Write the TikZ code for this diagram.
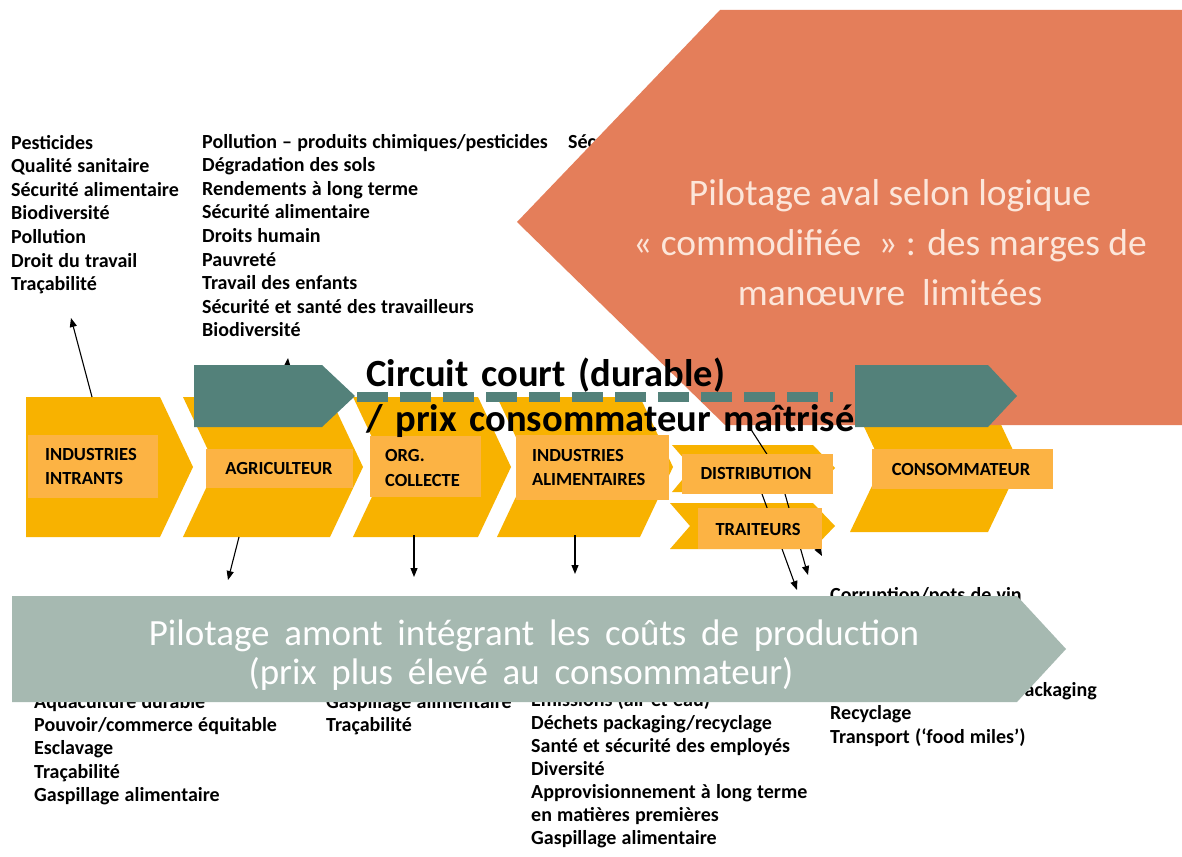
\documentclass[tikz,border=0pt]{standalone}
\usepackage{fontspec}
\setmainfont{Carlito}
\usetikzlibrary{arrows.meta}
\definecolor{orng}{HTML}{E47E5A}
\definecolor{orngtxt}{HTML}{FCE6DA}
\definecolor{tealc}{HTML}{53817A}
\definecolor{chev}{HTML}{F8B200}
\definecolor{lbl}{HTML}{FCB344}
\definecolor{barc}{HTML}{A6B9B1}
\newcommand\setwsp[1]{\spaceskip=#1em plus 0.05em\relax}
\begin{document}
\begin{tikzpicture}[x=1pt,y=-1pt,
  lst/.style={anchor=base west,inner sep=0pt,font=\fontsize{20}{24}\selectfont\bfseries,execute at begin node={\setwsp{0.26}}},
  lab/.style={anchor=base,inner sep=0pt,font=\fontsize{18.5}{22}\selectfont\bfseries},
  labw/.style={anchor=base west,inner sep=0pt,font=\fontsize{18.5}{22}\selectfont\bfseries},
  chevron/.style={fill=chev},
  lbox/.style={fill=lbl},
  arr/.style={line width=1.1pt,-{Triangle[length=9pt,width=7pt]}},
  big/.style={anchor=base west,inner sep=0pt,font=\fontsize{38.5}{40}\selectfont\bfseries,execute at begin node={\setwsp{0.33}}},
  bartext/.style={text=white,font=\fontsize{37}{42}\selectfont,inner sep=0pt,anchor=base,execute at begin node={\setwsp{0.4}}},
]
\useasboundingbox (0,0) rectangle (1182,856);
\fill[white] (0,0) rectangle (1182,856);

% top lists
\foreach \t [count=\i] in {{Pesticides},{Qualité sanitaire},{Sécurité alimentaire},{Biodiversité},{Pollution},{Droit du travail},{Traçabilité}}
  \node[lst] (A\i) at (11,{149+23.6*(\i-1)}) {\t};
\foreach \t [count=\i] in {{Pollution – produits chimiques/pesticides},{Dégradation des sols},{Rendements à long terme},{Sécurité alimentaire},{Droits humain},{Pauvreté},{Travail des enfants},{Sécurité et santé des travailleurs},{Biodiversité}}
  \node[lst] (B\i) at (202,{148+23.6*(\i-1)}) {\t};
\node[lst] (C1) at (568,148) {Sécurité alimentaire};

% chevrons
\fill[chevron] (26,397) -- (160,397) -- (193,467) -- (160,537) -- (26,537) -- cycle;
\fill[chevron] (183,397) -- (330,397) -- (363,467) -- (330,537) -- (183,537) -- (216,467) -- cycle;
\fill[chevron] (353,397) -- (478,397) -- (511,467) -- (478,537) -- (353,537) -- (386,467) -- cycle;
\fill[chevron] (497,397) -- (640,397) -- (673,467) -- (640,537) -- (497,537) -- (530,467) -- cycle;
\fill[chevron] (672,445) -- (813,445) -- (835,468) -- (813,492) -- (672,492) -- (692,468) -- cycle;
\fill[chevron] (670,503) -- (813,503) -- (835,526) -- (813,549) -- (670,549) -- (690,526) -- cycle;
\fill[chevron] (850,397) -- (988,397) -- (1020,465) -- (988,532) -- (850,532) -- (882,465) -- cycle;

% orange pentagon
\fill[orng] (720,10) -- (1182,10) -- (1182,425) -- (725,425) -- (517,222) -- cycle;
\node[align=center,text=orngtxt,font=\fontsize{37.5}{50}\selectfont,inner sep=0pt] (aval) at (890,243)
  {Pilotage aval selon logique\\« commodifiée\ \ » : des marges de\\manœuvre\ \ limitées};

% upward arrows
\coordinate (u1s) at (92,397); \coordinate (u1e) at (71,318);
\draw[arr] (u1s) -- (u1e);
\coordinate (u2s) at (285,390); \coordinate (u2e) at (288,358);
\draw[arr] (u2s) -- (u2e);

% diagonal lines (distribution / traiteurs)
\coordinate (d1s) at (750,428); \coordinate (d1e) at (772,462);
\draw[line width=1.1pt] (d1s) -- (d1e);
\coordinate (d2s) at (762,494); \coordinate (d2e) at (797,590);
\draw[arr] (d2s) -- (d2e);
\coordinate (d3s) at (785,494); \coordinate (d3e) at (808,575);
\draw[arr] (d3s) -- (d3e);
\coordinate (d4s) at (805,525); \coordinate (d4e) at (822,556);
\draw[arr] (d4s) -- (d4e);

% label boxes
\fill[lbox] (28,435) rectangle (158,498);
\node[labw] (l1a) at (45,460) {INDUSTRIES};
\node[labw] (l1b) at (45,484) {INTRANTS};
\fill[lbox] (206,449) rectangle (353,488);
\node[lab] (l2) at (279,474) {AGRICULTEUR};
\fill[lbox] (370,436) rectangle (481,497);
\node[labw] (l3a) at (385,461) {ORG.};
\node[labw] (l3b) at (385,486) {COLLECTE};
\fill[lbox] (516,435) rectangle (669,500);
\node[labw] (l4a) at (532,461) {INDUSTRIES};
\node[labw] (l4b) at (532,485) {ALIMENTAIRES};
\fill[lbox] (682,454) rectangle (833,494);
\node[lab] (l5) at (756,479) {DISTRIBUTION};
\fill[lbox] (698,508) rectangle (822,549);
\node[lab] (l6) at (758,535) {TRAITEURS};
\fill[lbox] (872,449) rectangle (1053,489);
\node[lab] (l7) at (961,475) {CONSOMMATEUR};

% downward arrows
\coordinate (a1s) at (239,537); \coordinate (a1e) at (228,580);
\draw[arr] (a1s) -- (a1e);
\coordinate (a2s) at (414,535); \coordinate (a2e) at (414,577);
\draw[arr] (a2s) -- (a2e);
\coordinate (a3s) at (575,535); \coordinate (a3e) at (575,574);
\draw[arr] (a3s) -- (a3e);

% teal arrows and dashed line
\fill[tealc] (194,365) -- (322,365) -- (355,396) -- (322,427) -- (194,427) -- cycle;
\fill[tealc] (855,365) -- (988,365) -- (1017,396) -- (988,427) -- (855,427) -- cycle;
\coordinate (ds) at (357,397); \coordinate (de) at (833,397);
\draw[tealc,line width=10pt,dash pattern=on 31pt off 12pt] (ds) -- (de);

\node[big] (cc1) at (366,386) {Circuit court (durable)};
\node[big] (cc2) at (366,431) {/ prix consommateur maîtrisé};

% bottom lists
\foreach \t [count=\i] in {{Aquaculture durable},{Pouvoir/commerce équitable},{Esclavage},{Traçabilité},{Gaspillage alimentaire}}
  \node[lst] (D\i) at (34,{708+23.4*(\i-1)}) {\t};
\foreach \t [count=\i] in {{Gaspillage alimentaire},{Traçabilité}}
  \node[lst] (E\i) at (326,{708+23.4*(\i-1)}) {\t};
\foreach \t [count=\i] in {{Emissions (air et eau)},{Déchets packaging/recyclage},{Santé et sécurité des employés},{Diversité},{Approvisionnement à long terme},{en matières premières},{Gaspillage alimentaire}}
  \node[lst] (F\i) at (531,{706+23*(\i-1)}) {\t};
\node[lst] (G1) at (830,601) {Corruption/pots de vin};
\node[lst,anchor=base east] (G2) at (1097,696) {packaging};
\node[lst] (G3) at (830,719) {Recyclage};
\node[lst] (G4) at (830,743) {Transport (‘food miles’)};

% bottom bar
\fill[barc] (12,596) -- (1017,596) -- (1066,649) -- (1017,702) -- (12,702) -- cycle;
\node[bartext] (pb1) at (534,645) {Pilotage amont intégrant les coûts de production};
\node[bartext] (pb2) at (521,684) {(prix plus élevé au consommateur)};
\end{tikzpicture}
\end{document}
